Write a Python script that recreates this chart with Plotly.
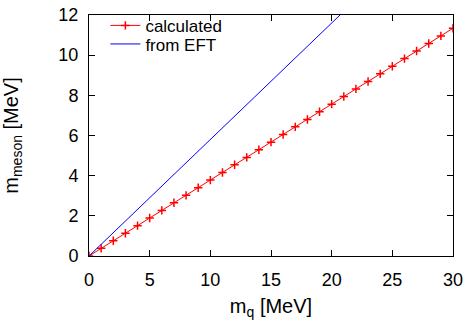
import plotly.graph_objects as go

mq_calc = list(range(0, 31))
m_calc = [0, 0.38, 0.76, 1.13, 1.51, 1.89, 2.27, 2.65, 3.02, 3.40, 3.78, 4.16, 4.54, 4.91,
          5.29, 5.67, 6.05, 6.43, 6.80, 7.18, 7.56, 7.94, 8.32, 8.69, 9.07, 9.45, 9.83,
          10.21, 10.58, 10.96, 11.34]
mq_eft = [0, 30]
m_eft = [0, 17.4]

x_ticks = [0, 5, 10, 15, 20, 25, 30]
y_ticks = [0, 2, 4, 6, 8, 10, 12]

FAM = "Liberation Sans, Arial, sans-serif"
tick_font = dict(family=FAM, size=18, color="black")
title_font = dict(family=FAM, size=20, color="black")
leg_font = dict(family=FAM, size=17, color="black")

fig = go.Figure()
fig.add_trace(go.Scatter(x=mq_calc, y=m_calc, mode="lines+markers", name="calculated",
                         line=dict(color="#ff0000", width=1),
                         marker=dict(symbol="cross-thin", size=6, color="#ff0000",
                                     line=dict(color="#ff0000", width=1.5)),
                         legend="legend"))
fig.add_trace(go.Scatter(x=mq_eft, y=m_eft, mode="lines", name="from EFT",
                         line=dict(color="#0000ff", width=1),
                         legend="legend2"))

axis_common = dict(showline=True, linecolor="black", linewidth=1, mirror="ticks",
                   ticks="inside", ticklen=6, tickcolor="black", tickwidth=1,
                   showgrid=False, zeroline=False, tickfont=tick_font, automargin=False)
leg_common = dict(x=0.045, xanchor="left", yanchor="middle", bgcolor="rgba(0,0,0,0)",
                  font=leg_font, itemwidth=30, borderwidth=0)
fig.update_layout(
    width=468, height=320,
    margin=dict(l=89, r=15, t=15, b=64, autoexpand=False),
    paper_bgcolor="white", plot_bgcolor="white",
    font=tick_font,
    showlegend=True,
    legend=dict(y=0.955, **leg_common),
    legend2=dict(y=0.878, **leg_common),
    xaxis=dict(range=[0, 30], tickvals=x_ticks, ticktext=[str(v) for v in x_ticks],
               ticklabelstandoff=7,
               title=dict(text="m<sub>q</sub> [MeV]", font=title_font, standoff=10), **axis_common),
    yaxis=dict(range=[0, 12], tickvals=y_ticks, ticktext=[str(v) for v in y_ticks],
               ticklabelstandoff=6,
               title=dict(text="m<sub>meson</sub> [MeV]", font=title_font, standoff=34), **axis_common),
)
fig.write_html("out.html")
